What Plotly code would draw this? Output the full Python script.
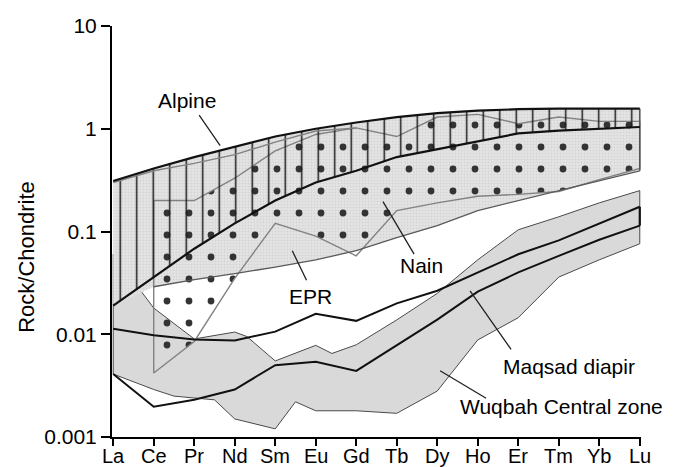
import numpy as np
import plotly.graph_objects as go

# ---------------- data ----------------
ree = ["La", "Ce", "Pr", "Nd", "Sm", "Eu", "Gd", "Tb", "Dy", "Ho", "Er", "Tm", "Yb", "Lu"]
pos = list(range(len(ree)))

# Alpine field (vertical hatch): upper and lower envelope, La..Lu
alpine_top = [0.31, 0.41, 0.53, 0.67, 0.84, 1.0, 1.15, 1.3, 1.42, 1.5, 1.55, 1.57, 1.57, 1.57]
alpine_base = [0.019, 0.036, 0.068, 0.12, 0.2, 0.3, 0.39, 0.53, 0.63, 0.76, 0.9, 0.96, 1.0, 1.04]
# inner grey line of the Alpine field, La..Gd
alpine_inner = [0.30, 0.39, 0.46, 0.56, 0.74, 0.95, 1.02]

# EPR (stippled) field lower envelope, Ce..Lu
epr_base = [0.029, 0.034, 0.039, 0.045, 0.053, 0.065, 0.087, 0.114, 0.16, 0.2, 0.25, 0.31, 0.39]

# Nain field (squares) upper and lower envelope, Ce..Lu
nain_top = [0.2, 0.2, 0.33, 0.61, 0.88, 1.02, 0.84, 1.3, 1.38, 1.12, 1.3, 1.18, 1.18]
nain_base = [0.0042, 0.0085, 0.035, 0.12, 0.09, 0.058, 0.16, 0.19, 0.22, 0.23, 0.245, 0.32, 0.41]

# Grey field (Maqsad diapir + Wuqbah Central zone)
field_top_x = [0, 1, 2, 3, 3.3, 4, 5, 5.4, 6, 7, 8, 9, 10, 11, 12, 13]
field_top = [0.06, 0.018, 0.009, 0.0105, 0.0095, 0.0055, 0.0078, 0.0065, 0.0079,
             0.0138, 0.025, 0.053, 0.104, 0.139, 0.19, 0.25]
field_base_x = [0, 1, 1.5, 2.5, 3, 4, 4.5, 5, 6, 7, 8, 9, 10, 11, 12, 13]
field_base = [0.0041, 0.0029, 0.0025, 0.0023, 0.0015, 0.0012, 0.0022, 0.0018, 0.0018,
              0.0017, 0.0028, 0.0088, 0.0145, 0.036, 0.053, 0.076]

# Two bold patterns inside the grey field, La..Lu
maqsad = [0.0113, 0.0098, 0.0089, 0.0087, 0.0106, 0.0158, 0.0135, 0.02, 0.0265,
          0.04, 0.06, 0.082, 0.119, 0.174]
wuqbah = [0.0041, 0.00197, 0.0023, 0.0029, 0.005, 0.0054, 0.0044, 0.0078, 0.0139,
          0.026, 0.04, 0.058, 0.083, 0.114]

y_ticks = [0.001, 0.01, 0.1, 1, 10]
y_ticktext = ["0.001", "0.01", "0.1", "1", "10"]

FONT = "Liberation Sans, Arial, Helvetica, sans-serif"
fig = go.Figure()

# grey field
fig.add_trace(go.Scatter(
    x=field_top_x + field_base_x[::-1] + [field_top_x[0]],
    y=field_top + field_base[::-1] + [field_top[0]],
    mode="lines", fill="toself", fillcolor="#d9d9d9",
    line=dict(color="#4a4a4a", width=1), hoverinfo="skip"))

# stippled field (top line down to EPR base)
ce_lu = pos[1:]
fig.add_trace(go.Scatter(
    x=pos + ce_lu[::-1] + [pos[0]],
    y=alpine_top + epr_base[::-1] + [alpine_base[0]],
    mode="lines", fill="toself", fillcolor="rgba(0,0,0,0)",
    fillpattern=dict(shape=".", size=3, solidity=0.3, fgcolor="#c2c2c2", bgcolor="#e4e4e4"),
    line=dict(width=0), hoverinfo="skip"))

# Nain field with squares
fig.add_trace(go.Scatter(
    x=ce_lu + ce_lu[::-1] + [ce_lu[0]],
    y=nain_top + nain_base[::-1] + [nain_top[0]],
    mode="lines", fill="toself", fillcolor="rgba(0,0,0,0)",
    fillpattern=dict(shape=".", size=22, solidity=0.075, fgcolor="#333333", fgopacity=1,
                     bgcolor="rgba(0,0,0,0)"),
    line=dict(color="#828282", width=1.4), hoverinfo="skip"))

# Alpine hatch
fig.add_trace(go.Scatter(
    x=pos + pos[::-1],
    y=alpine_top + alpine_base[::-1],
    mode="lines", fill="toself", fillcolor="rgba(0,0,0,0)",
    fillpattern=dict(shape="|", size=16.5, solidity=0.09, fgcolor="#1a1a1a", fgopacity=1,
                     bgcolor="rgba(0,0,0,0)"),
    line=dict(width=0), hoverinfo="skip"))

# lines
fig.add_trace(go.Scatter(x=pos[:len(alpine_inner)], y=alpine_inner, mode="lines",
                         line=dict(color="#828282", width=1.4), hoverinfo="skip"))
fig.add_trace(go.Scatter(x=ce_lu, y=epr_base, mode="lines",
                         line=dict(color="#5a5a5a", width=1.3), hoverinfo="skip"))
fig.add_trace(go.Scatter(x=[pos[-1], pos[-1]], y=[alpine_top[-1], epr_base[-1]], mode="lines",
                         line=dict(color="#555555", width=1.6), hoverinfo="skip"))
fig.add_trace(go.Scatter(x=pos, y=alpine_top, mode="lines",
                         line=dict(color="#111111", width=2.2), hoverinfo="skip"))
fig.add_trace(go.Scatter(x=pos, y=alpine_base, mode="lines",
                         line=dict(color="#111111", width=2.2), hoverinfo="skip"))
fig.add_trace(go.Scatter(x=pos, y=maqsad, mode="lines",
                         line=dict(color="#111111", width=2), hoverinfo="skip"))
fig.add_trace(go.Scatter(x=pos, y=wuqbah, mode="lines",
                         line=dict(color="#111111", width=2), hoverinfo="skip"))
fig.add_trace(go.Scatter(x=[pos[-1], pos[-1]], y=[maqsad[-1], wuqbah[-1]], mode="lines",
                         line=dict(color="#111111", width=2.2), hoverinfo="skip"))

# labels
labels = [
    ("Alpine", 1.82, 1.87, "center"),
    ("Nain", 7.62, 0.0464, "center"),
    ("EPR", 4.86, 0.0232, "center"),
    ("Maqsad diapir", 11.25, 0.00483, "center"),
    ("Wuqbah Central zone", 8.51, 0.00197, "left"),
]
for txt, lx, ly, anc in labels:
    fig.add_annotation(x=lx, y=np.log10(ly), text=txt, showarrow=False, xanchor=anc,
                       font=dict(family=FONT, size=21, color="black"))

pointers = [  # tip (x, value), tail offset in px
    (2.64, 0.684, -22, -32),
    (6.66, 0.195, 32, 54),
    (4.42, 0.065, 15, 31),
    (8.81, 0.0265, 42, 60),
    (8.07, 0.00441, 47, 28),
]
for px_, py_, ax_, ay_ in pointers:
    fig.add_annotation(x=px_, y=np.log10(py_), ax=ax_, ay=ay_, text=" ", showarrow=True,
                       arrowhead=0, arrowwidth=1.3, arrowcolor="#222222",
                       font=dict(size=2), borderpad=0)

# x tick labels (placed closer to the axis than plotly's default)
for p, name in zip(pos, ree):
    fig.add_annotation(x=p, xref="x", yref="paper", y=-0.046, yanchor="middle",
                       text=name, showarrow=False,
                       font=dict(family=FONT, size=20, color="black"))

fig.add_annotation(xref="paper", yref="paper", x=-0.161, y=0.438, text="Rock/Chondrite",
                   xanchor="center", yanchor="middle",
                   textangle=-90, showarrow=False,
                   font=dict(family=FONT, size=22, color="black"))

fig.update_layout(
    width=675, height=467,
    margin=dict(l=112, r=34, t=26, b=30),
    paper_bgcolor="white", plot_bgcolor="white",
    showlegend=False,
    font=dict(family=FONT, color="black"),
    xaxis=dict(range=[-0.03, 13.03], tickvals=pos, ticks="outside", showticklabels=False,
               ticklen=7, tickwidth=1.5, tickcolor="black", showline=True,
               linecolor="black", linewidth=2, showgrid=False, zeroline=False,
               automargin=False),
    yaxis=dict(type="log", range=[-3, 1], tickvals=y_ticks, ticktext=y_ticktext,
               ticks="outside", ticklen=9, tickwidth=1.5, tickcolor="black",
               showline=True, linecolor="black", linewidth=2, showgrid=False,
               zeroline=False, automargin=False,
               tickfont=dict(family=FONT, size=21, color="black")),
)

fig.write_html("out.html")
